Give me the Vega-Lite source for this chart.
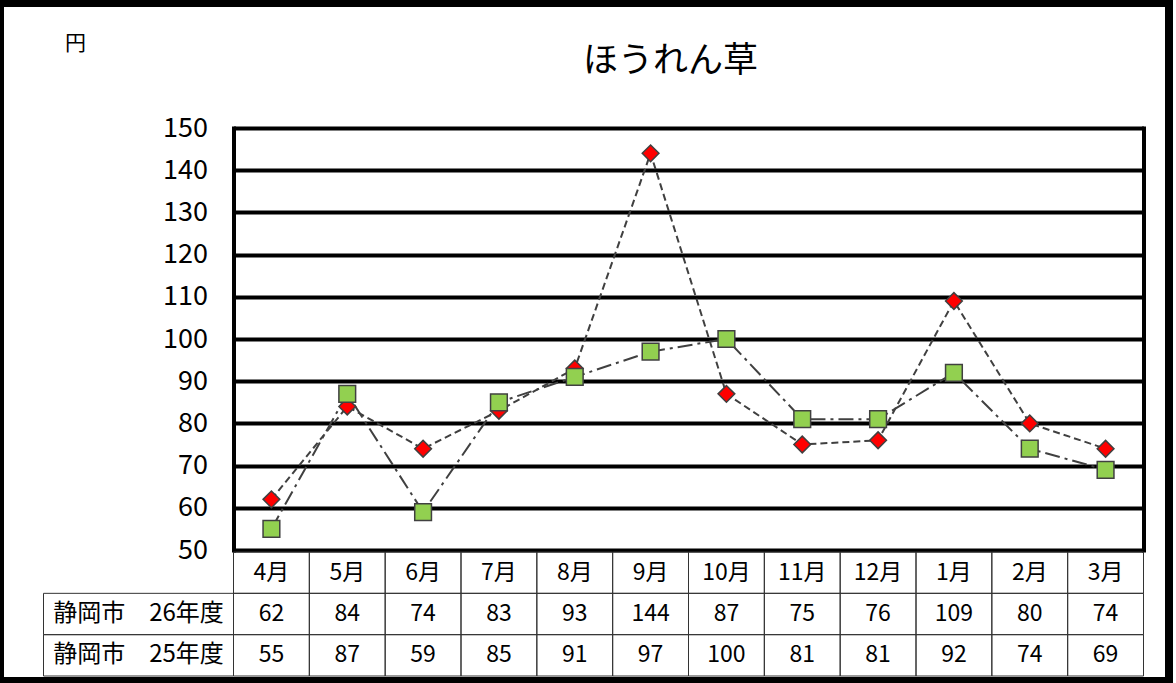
{
  "$schema": "https://vega.github.io/schema/vega-lite/v6.json",
  "width": 1169,
  "height": 678,
  "autosize": {"type": "none"},
  "padding": {"left": 0, "top": 3, "right": 7, "bottom": 2},
  "background": "white",
  "config": {
    "font": "Noto Sans CJK JP",
    "view": {"stroke": "black", "strokeWidth": 8, "fill": "white"}
  },
  "title": {
    "text": "ほうれん草",
    "font": "Noto Sans CJK JP",
    "fontSize": 35,
    "fontWeight": "normal",
    "color": "black",
    "anchor": "middle",
    "frame": "group",
    "dx": 86,
    "offset": -76
  },
  "datasets": {
    "prices": [
      {"month": "4月", "series": "静岡市　26年度", "value": 62},
      {"month": "5月", "series": "静岡市　26年度", "value": 84},
      {"month": "6月", "series": "静岡市　26年度", "value": 74},
      {"month": "7月", "series": "静岡市　26年度", "value": 83},
      {"month": "8月", "series": "静岡市　26年度", "value": 93},
      {"month": "9月", "series": "静岡市　26年度", "value": 144},
      {"month": "10月", "series": "静岡市　26年度", "value": 87},
      {"month": "11月", "series": "静岡市　26年度", "value": 75},
      {"month": "12月", "series": "静岡市　26年度", "value": 76},
      {"month": "1月", "series": "静岡市　26年度", "value": 109},
      {"month": "2月", "series": "静岡市　26年度", "value": 80},
      {"month": "3月", "series": "静岡市　26年度", "value": 74},
      {"month": "4月", "series": "静岡市　25年度", "value": 55},
      {"month": "5月", "series": "静岡市　25年度", "value": 87},
      {"month": "6月", "series": "静岡市　25年度", "value": 59},
      {"month": "7月", "series": "静岡市　25年度", "value": 85},
      {"month": "8月", "series": "静岡市　25年度", "value": 91},
      {"month": "9月", "series": "静岡市　25年度", "value": 97},
      {"month": "10月", "series": "静岡市　25年度", "value": 100},
      {"month": "11月", "series": "静岡市　25年度", "value": 81},
      {"month": "12月", "series": "静岡市　25年度", "value": 81},
      {"month": "1月", "series": "静岡市　25年度", "value": 92},
      {"month": "2月", "series": "静岡市　25年度", "value": 74},
      {"month": "3月", "series": "静岡市　25年度", "value": 69}
    ],
    "header": [
      {"month": "4月", "row": "月"},
      {"month": "5月", "row": "月"},
      {"month": "6月", "row": "月"},
      {"month": "7月", "row": "月"},
      {"month": "8月", "row": "月"},
      {"month": "9月", "row": "月"},
      {"month": "10月", "row": "月"},
      {"month": "11月", "row": "月"},
      {"month": "12月", "row": "月"},
      {"month": "1月", "row": "月"},
      {"month": "2月", "row": "月"},
      {"month": "3月", "row": "月"}
    ],
    "labels": [
      {"col": "系列", "series": "静岡市　26年度"},
      {"col": "系列", "series": "静岡市　25年度"}
    ]
  },
  "layer": [
    {
      "layer": [
        {
          "data": {"name": "header"},
          "mark": {"type": "rect", "filled": false, "stroke": "#333333", "strokeWidth": 1},
          "encoding": {
            "x": {"field": "month", "type": "nominal", "axis": null,
              "scale": {"type": "band", "domain": ["4月","5月","6月","7月","8月","9月","10月","11月","12月","1月","2月","3月"], "range": [233.5, 1143.5], "paddingInner": 0, "paddingOuter": 0}},
            "y": {"field": "row", "type": "nominal", "axis": null,
              "scale": {"type": "band", "domain": ["月", "静岡市　26年度", "静岡市　25年度"], "range": [549, 673], "paddingInner": 0, "paddingOuter": 0}}
          }
        },
        {
          "data": {"name": "header"},
          "mark": {"type": "text", "fontSize": 23, "color": "black", "baseline": "middle", "align": "center"},
          "encoding": {
            "x": {"field": "month", "type": "nominal", "axis": null},
            "y": {"field": "row", "type": "nominal", "axis": null},
            "text": {"field": "month"}
          }
        },
        {
          "data": {"name": "prices"},
          "mark": {"type": "rect", "filled": false, "stroke": "#333333", "strokeWidth": 1},
          "encoding": {
            "x": {"field": "month", "type": "nominal", "axis": null},
            "y": {"field": "series", "type": "nominal", "axis": null}
          }
        },
        {
          "data": {"name": "prices"},
          "mark": {"type": "text", "fontSize": 23, "color": "black", "baseline": "middle", "align": "center"},
          "encoding": {
            "x": {"field": "month", "type": "nominal", "axis": null},
            "y": {"field": "series", "type": "nominal", "axis": null},
            "text": {"field": "value"}
          }
        }
      ]
    },
    {
      "data": {"name": "labels"},
      "layer": [
        {
          "mark": {"type": "rect", "filled": false, "stroke": "#333333", "strokeWidth": 1},
          "encoding": {
            "x": {"field": "col", "type": "nominal", "axis": null,
              "scale": {"type": "band", "domain": ["系列"], "range": [43.5, 233.5], "paddingInner": 0, "paddingOuter": 0}},
            "y": {"field": "series", "type": "nominal", "axis": null,
              "scale": {"type": "band", "domain": ["月", "静岡市　26年度", "静岡市　25年度"], "range": [549, 673], "paddingInner": 0, "paddingOuter": 0}}
          }
        },
        {
          "mark": {"type": "text", "fontSize": 24, "color": "black", "baseline": "middle", "align": "center"},
          "encoding": {
            "x": {"field": "col", "type": "nominal", "axis": null},
            "y": {"field": "series", "type": "nominal", "axis": null},
            "text": {"field": "series"}
          }
        }
      ]
    },
    {
      "data": {"name": "prices"},
      "layer": [
        {
          "mark": {"type": "line", "color": "#404040", "strokeWidth": 2},
          "encoding": {
            "x": {"field": "month", "type": "nominal", "axis": null,
              "scale": {"type": "point", "domain": ["4月","5月","6月","7月","8月","9月","10月","11月","12月","1月","2月","3月"], "range": [233.5, 1143.5], "padding": 0.5}},
            "y": {"field": "value", "type": "quantitative",
              "scale": {"domain": [50, 150], "range": [547, 125], "zero": false, "nice": false},
              "axis": {
                "orient": "left",
                "values": [50, 60, 70, 80, 90, 100, 110, 120, 130, 140, 150],
                "grid": true, "gridColor": "black", "gridWidth": 4, "gridOpacity": 1,
                "domain": true, "domainColor": "black", "domainWidth": 4, "domainCap": "square",
                "ticks": false, "tickSize": 0,
                "labelFontSize": 27, "labelColor": "black", "labelPadding": 26, "labelFont": "Noto Sans CJK JP",
                "offset": -233.5,
                "title": "円", "titleAngle": 0, "titleX": -158.5, "titleY": 40,
                "titleFontSize": 21, "titleFontWeight": "normal", "titleColor": "black",
                "titleAlign": "center", "titleBaseline": "middle", "titleFont": "Noto Sans CJK JP"
              }
            },
            "strokeDash": {"field": "series", "type": "nominal", "legend": null,
              "scale": {"domain": ["静岡市　26年度", "静岡市　25年度"], "range": [[7, 4], [15, 5, 3, 5]]}}
          }
        },
        {
          "mark": {"type": "point", "filled": true, "size": 280, "stroke": "#404040", "strokeWidth": 1.5, "opacity": 1},
          "encoding": {
            "x": {"field": "month", "type": "nominal", "axis": null},
            "y": {"field": "value", "type": "quantitative",
              "axis": {"orient": "right", "offset": -25.5, "grid": false, "labels": false, "ticks": false, "title": null,
                "domain": true, "domainColor": "black", "domainWidth": 4, "domainCap": "square"}},
            "shape": {"field": "series", "type": "nominal", "legend": null,
              "scale": {"domain": ["静岡市　26年度", "静岡市　25年度"], "range": ["diamond", "square"]}},
            "fill": {"field": "series", "type": "nominal", "legend": null,
              "scale": {"domain": ["静岡市　26年度", "静岡市　25年度"], "range": ["#FF0000", "#92D050"]}}
          }
        }
      ],
      "resolve": {"axis": {"y": "independent"}}
    }
  ],
  "resolve": {"scale": {"x": "independent", "y": "independent"}}
}
